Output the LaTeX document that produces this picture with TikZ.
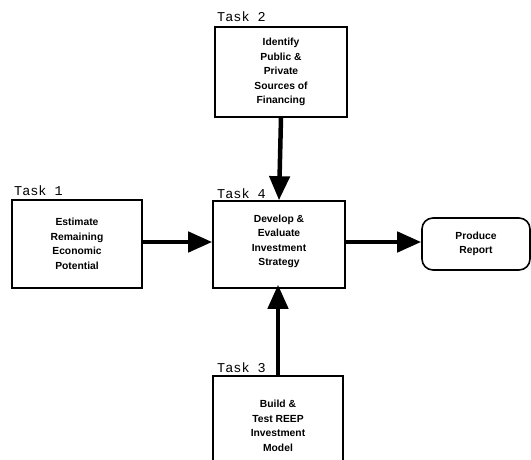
\documentclass[tikz,border=0pt]{standalone}
\usepackage{fontspec}
\setmainfont{Liberation Sans}
\newfontfamily\taskfont{Liberation Mono}
\usetikzlibrary{arrows.meta}
\begin{document}
\begin{tikzpicture}[x=1pt,y=-1pt,
  box/.style={draw,line width=1.6pt,align=center,inner sep=0pt,
    font=\fontsize{10.3}{14.5}\selectfont\bfseries},
  openbox/.style={inner sep=0pt},
  boxtext/.style={align=center,inner sep=0pt,
    font=\fontsize{10.3}{14.5}\selectfont\bfseries},
  tasklabel/.style={anchor=base west,inner sep=0pt,font=\fontsize{13.5}{15}\taskfont},
  bigarrow/.style={line width=4.5pt,-{Triangle[length=24pt,width=20pt]}}]
\useasboundingbox (0,0) rectangle (531,460);
\fill[white] (0,0) rectangle (531,460);
% boxes
\node[box,minimum width=132pt,minimum height=90pt] (t2) at (281,72)
  {Identify\\Public \&\\Private\\Sources of\\Financing};
\node[box,minimum width=130pt,minimum height=88pt] (t1) at (77,244)
  {Estimate\\Remaining\\Economic\\Potential};
\node[box,minimum width=132pt,minimum height=87pt] (t4) at (279,244.5)
  {Develop \&\\Evaluate\\Investment\\Strategy\\[-6pt]};
\node[box,rounded corners=11pt,minimum width=108pt,minimum height=52pt] (rep) at (476,244)
  {Produce\\Report};
\node[openbox,minimum width=130pt,minimum height=90pt] (t3) at (278,421) {};
\node[boxtext] (t3txt) at (278,426) {Build \&\\Test REEP\\Investment\\Model};
\draw[line width=1.6pt] (t3.south west) -- (t3.north west) -- (t3.north east) -- (t3.south east);
% labels
\node[tasklabel] (l2) at (217,22) {Task 2};
\node[tasklabel] (l1) at (14,195) {Task 1};
\node[tasklabel] (l4) at (217,198) {Task 4};
\node[tasklabel] (l3) at (217,372) {Task 3};
% arrows
\draw[bigarrow] (t2.south) -- (t4.north);
\draw[bigarrow] (t1.east |- 0,242) -- (t4.west |- 0,242);
\draw[bigarrow] (t4.east |- 0,242) -- (rep.west |- 0,242);
\draw[bigarrow] (t3.north -| 278,0) -- ([yshift=4pt]t4.south -| 278,0);
\end{tikzpicture}
\end{document}
